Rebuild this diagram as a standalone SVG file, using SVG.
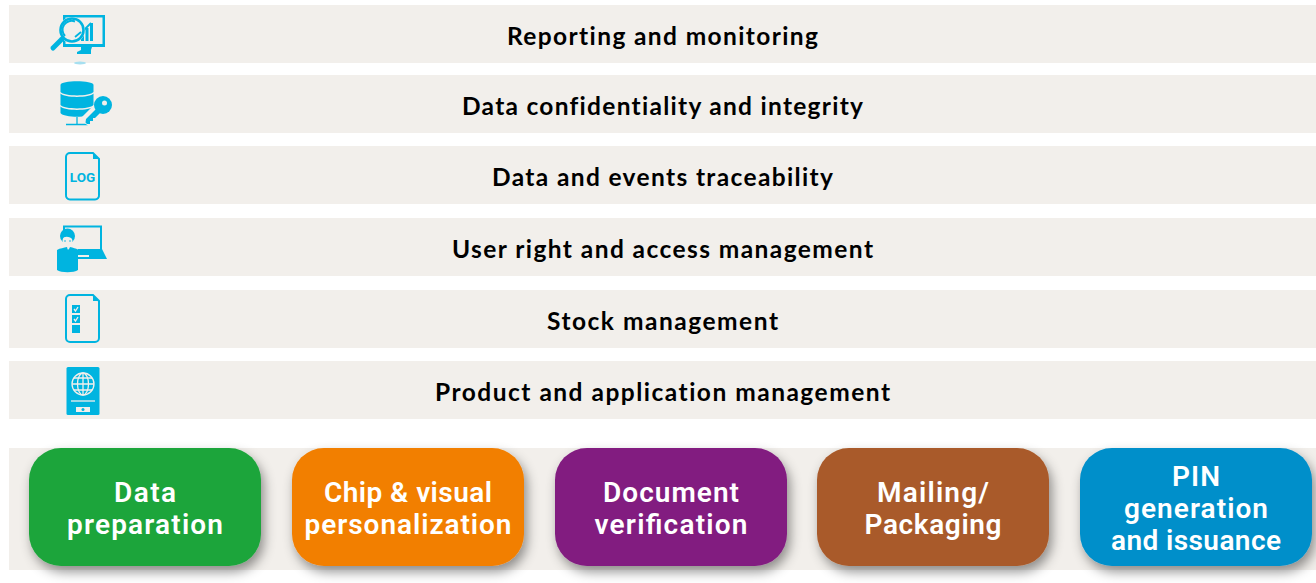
<svg xmlns="http://www.w3.org/2000/svg" width="1316" height="583" viewBox="0 0 1316 583">
<style>
.bar{fill:#f2efeb}
.t{font-family:"Lato","Noto Sans",sans-serif;font-size:24.500px;font-weight:700;fill:#000;text-anchor:middle;font-variant-ligatures:none}
.b{font-family:"Roboto","Noto Sans",sans-serif;font-size:28px;font-weight:600;fill:#fff;text-anchor:middle}
.i{fill:#00b4e0}
.s{fill:none;stroke:#00b4e0;stroke-width:2}
.w{fill:none;stroke:#f2efeb;stroke-width:1.300}
.card{filter:url(#sh)}
</style>
<defs>
<filter id="sh" x="-10%" y="-15%" width="125%" height="140%"><feDropShadow dx="3" dy="6" stdDeviation="6" flood-color="#000" flood-opacity="0.42"/></filter>
</defs>
<g id="bars">
<rect class="bar" x="9" y="5" width="1307" height="58"/>
<rect class="bar" x="9" y="75" width="1307" height="58"/>
<rect class="bar" x="9" y="146" width="1307" height="58"/>
<rect class="bar" x="9" y="218" width="1307" height="58"/>
<rect class="bar" x="9" y="290" width="1307" height="58"/>
<rect class="bar" x="9" y="361" width="1307" height="58"/>
<rect class="bar" x="9" y="448" width="1307" height="122"/>
</g>
<g id="connectors"/>
<g id="row-reporting">
<g id="icon-reporting">
<path class="i" d="M63 15H105V47H92L91 50L91 53V54H77V52L81 50L81 47H63Z"/>
<rect x="65.500" y="17.500" width="37" height="26.500" fill="#f2efeb"/>
<path class="i" d="M81 41V35H84V41ZM85.500 41V28H88.500V41ZM90 41V23H93V41Z"/>
<path d="M77 37L91 23" stroke="#00b4e0" stroke-width="1.800" fill="none"/>
<circle cx="72" cy="30" r="13" fill="#f2efeb"/>
<circle cx="72" cy="30" r="11.500" fill="none" stroke="#00b4e0" stroke-width="2.600"/>
<path d="M65 36A9 9 0 0 1 75 21.500" fill="none" stroke="#00b4e0" stroke-width="2"/>
<path d="M75 37L81 32" stroke="#00b4e0" stroke-width="1.800"/>
<path d="M53 48L62 39" stroke="#00b4e0" stroke-width="5" stroke-linecap="round"/>
<ellipse cx="80" cy="63" rx="6" ry="1.500" fill="#a6dff0"/>
</g>
<text class="t" x="662.500" y="45" textLength="311" lengthAdjust="spacing">Reporting and monitoring</text>
</g>
<g id="row-confidentiality">
<g id="icon-confidentiality">
<path class="i" d="M60.500 85C60.500 80 93.500 80 93.500 85V92C90 96.500 64 96.500 60.500 92Z"/>
<path class="i" d="M60.500 93.500C64 98 90 98 93.500 93.500V105C90 109.500 64 109.500 60.500 105Z"/>
<path class="i" d="M60.500 106.500C64 111 90 111 93.500 106.500V113C90 118 64 118 60.500 113Z"/>
<path d="M77 117V124M66 124.500H88" stroke="#00b4e0" stroke-width="1.300"/>
<path d="M84 122L100 106" stroke="#f2efeb" stroke-width="10"/>
<path class="i" d="M86 119L96 109L100 113L95 118H93V121H90V124H87L85.500 122.500Z"/>
<circle class="i" cx="103" cy="105" r="9"/>
<circle cx="104.500" cy="103" r="2.500" fill="#f2efeb"/>
</g>
<text class="t" x="662.500" y="115" textLength="401" lengthAdjust="spacing">Data confidentiality and integrity</text>
</g>
<g id="row-traceability">
<g id="icon-traceability">
<path class="s" d="M70 153H93L99 159V195A4 4 0 0 1 95 199.500H70A4 4 0 0 1 66 195V157A4 4 0 0 1 70 153Z"/>
<path class="i" d="M93 153L99 159L93 159Z"/>
<text x="82.500" y="182" font-family="Roboto,sans-serif" font-size="13.500" font-weight="700" fill="#00b4e0" text-anchor="middle">LOG</text>
</g>
<text class="t" x="662.500" y="186" textLength="341" lengthAdjust="spacing">Data and events traceability</text>
</g>
<g id="row-user">
<g id="icon-user">
<rect x="64" y="226.500" width="37" height="24" fill="none" stroke="#00b4e0" stroke-width="2"/>
<path class="i" d="M78 249H102L107 259H78Z"/>
<rect x="58" y="236" width="19" height="12" fill="#f2efeb"/>
<path class="i" d="M57 250C60 248 64 248 67 247L68 251L70 247C73 248 76 248 78 250V270C74 273 61 273 57 270Z"/>
<rect x="78" y="255" width="11" height="2" fill="#f2efeb"/>
<circle class="i" cx="67.500" cy="236" r="7.500"/>
<ellipse cx="67.500" cy="241" rx="5" ry="6" fill="#f2efeb"/>
<path class="i" d="M62 239C64 236 70 236 73 240L73 234H62Z"/>
<circle class="i" cx="65" cy="241" r=".8"/>
<circle class="i" cx="70" cy="241" r=".8"/>
</g>
<text class="t" x="662.500" y="258" textLength="421" lengthAdjust="spacing">User right and access management</text>
</g>
<g id="row-stock">
<g id="icon-stock">
<path class="s" d="M70 295H93L99 301V338A4 4 0 0 1 95 342H70A4 4 0 0 1 66 338V299A4 4 0 0 1 70 295Z"/>
<path class="i" d="M93 295L99 301L93 301Z"/>
<rect class="i" x="72" y="305" width="8" height="8"/>
<rect class="i" x="72" y="315" width="8" height="8"/>
<rect class="i" x="72" y="325" width="8" height="8"/>
<path d="M74 309L75.500 311L78 307M74 319L75.500 321L78 317" stroke="#f2efeb" stroke-width="1.300" fill="none"/>
</g>
<text class="t" x="662.500" y="330" textLength="231" lengthAdjust="spacing">Stock management</text>
</g>
<g id="row-product">
<g id="icon-product">
<rect class="i" x="66.500" y="367" width="33" height="48" rx="1.500"/>
<circle class="w" cx="83" cy="384" r="11"/>
<ellipse class="w" cx="83" cy="384" rx="5.500" ry="11"/>
<path class="w" d="M72 384H94M83 373V395M74 378H92M74 390H92"/>
<path class="w" d="M71 401H95"/>
<rect x="76" y="407" width="14" height="5" fill="#f2efeb"/>
<circle cx="83" cy="409.500" r="1.500" fill="#00b4e0"/>
</g>
<text class="t" x="662.500" y="401" textLength="455" lengthAdjust="spacing">Product and application management</text>
</g>
<g id="node-data-preparation">
<rect class="card" x="29" y="448" width="232" height="118" rx="32" fill="#1ba53b"/>
<text class="b" x="145" y="502" textLength="62" lengthAdjust="spacing">Data</text>
<text class="b" x="145" y="534" textLength="156" lengthAdjust="spacing">preparation</text>
</g>
<g id="node-chip">
<rect class="card" x="292" y="448" width="232" height="118" rx="32" fill="#f27f00"/>
<text class="b" x="408" y="502" textLength="168" lengthAdjust="spacing">Chip &amp; visual</text>
<text class="b" x="408" y="534" textLength="207" lengthAdjust="spacing">personalization</text>
</g>
<g id="node-document">
<rect class="card" x="555" y="448" width="232" height="118" rx="32" fill="#821d80"/>
<text class="b" x="671" y="502" textLength="136" lengthAdjust="spacing">Document</text>
<text class="b" x="671" y="534" textLength="153" lengthAdjust="spacing">verification</text>
</g>
<g id="node-mailing">
<rect class="card" x="817" y="448" width="232" height="118" rx="32" fill="#a95a2a"/>
<text class="b" x="933" y="502" textLength="112" lengthAdjust="spacing">Mailing/</text>
<text class="b" x="933" y="534" textLength="137" lengthAdjust="spacing">Packaging</text>
</g>
<g id="node-pin">
<rect class="card" x="1080" y="448" width="232" height="118" rx="32" fill="#008fca"/>
<text class="b" x="1196" y="486" textLength="48" lengthAdjust="spacing">PIN</text>
<text class="b" x="1196" y="518" textLength="144" lengthAdjust="spacing">generation</text>
<text class="b" x="1196" y="550" textLength="170" lengthAdjust="spacing">and issuance</text>
</g>
</svg>
